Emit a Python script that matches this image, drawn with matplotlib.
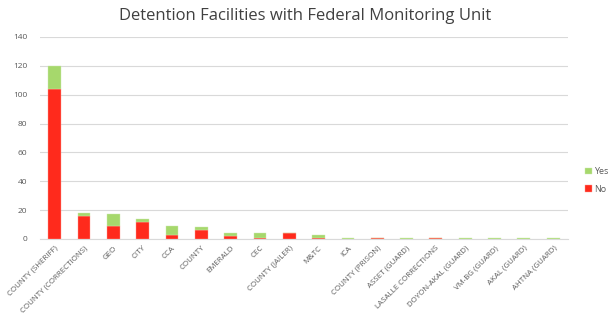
import matplotlib
matplotlib.use("Agg")
import matplotlib.pyplot as plt
import numpy as np

categories = [
    "COUNTY (SHERIFF)", "COUNTY (CORRECTIONS)", "GEO", "CITY", "CCA", "COUNTY",
    "EMERALD", "CEC", "COUNTY (JAILER)", "M&TC", "ICA", "COUNTY (PRISON)",
    "ASSET (GUARD)", "LASALLE CORRECTIONS", "DOYON-AKAL (GUARD)", "VM-BG (GUARD)",
    "AKAL (GUARD)", "AHTNA (GUARD)",
]
no_counts = [104, 16, 9, 12, 3, 6, 2, 1, 4, 1, 0, 1, 0, 1, 0, 0, 0, 0]
yes_counts = [16, 2, 8, 2, 6, 2, 2, 3, 0, 2, 1, 0, 1, 0, 1, 1, 1, 1]
y_ticks = [0, 20, 40, 60, 80, 100, 120, 140]

plt.rcParams["font.family"] = ["Open Sans", "DejaVu Sans"]

fig = plt.figure(figsize=(6.11, 3.29), dpi=100)
ax = fig.add_axes([0.0655, 0.2736, 0.864, 0.614])

x = np.arange(len(categories))
red = "#ff2a1c"
green = "#a6d86c"
w = 0.44
ax.bar(x, no_counts, width=w, color=red, edgecolor="#ff9d94", linewidth=0.3,
       label="No", zorder=3)
ax.bar(x, yes_counts, width=w, bottom=no_counts, color=green, edgecolor="#cdeab0",
       linewidth=0.3, label="Yes", zorder=3)

ax.set_xlim(-0.5, len(categories) - 0.5)
ax.set_ylim(0, 140)
ax.set_yticks(y_ticks)
ax.yaxis.grid(True, color="#d9d9d9", linewidth=0.8, zorder=0)
for s in ["top", "right", "left"]:
    ax.spines[s].set_visible(False)
ax.spines["bottom"].set_color("#d9d9d9")
ax.spines["bottom"].set_linewidth(0.8)
ax.tick_params(axis="both", length=0, colors="#595959", labelsize=6)
ax.tick_params(axis="y", pad=9)
ax.set_xticks(x)
ax.set_xticklabels(categories, rotation=45, ha="right", rotation_mode="anchor",
                   fontsize=5.7, color="#595959")
ax.tick_params(axis="x", pad=4)

handles, labels = ax.get_legend_handles_labels()
leg = fig.legend(handles[::-1], labels[::-1], loc="upper left",
                 bbox_to_anchor=(0.952, 0.502), frameon=False, fontsize=6.5,
                 handlelength=0.7, handleheight=0.7, handletextpad=0.3,
                 labelspacing=0.9, borderaxespad=0)
for t in leg.get_texts():
    t.set_color("#595959")

fig.suptitle("Detention Facilities with Federal Monitoring Unit", x=0.5, y=0.975,
             fontsize=12, color="#404040")

fig.savefig("out.png", dpi=100)
